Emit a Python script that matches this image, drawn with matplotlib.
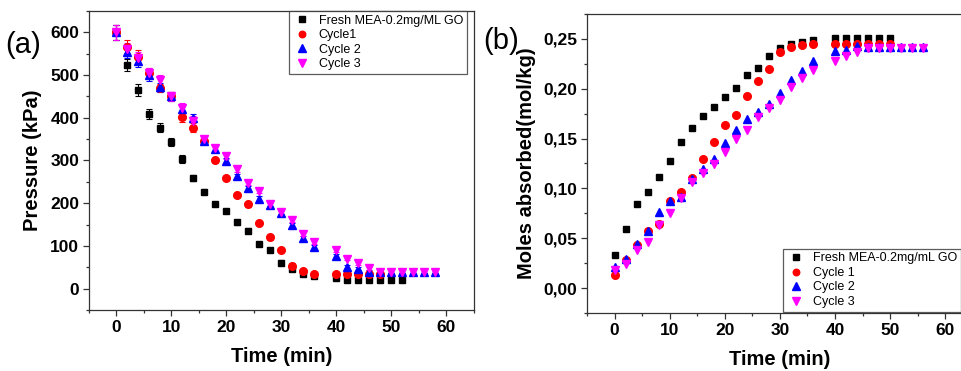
import matplotlib
matplotlib.use("Agg")
import matplotlib.pyplot as plt
from matplotlib.ticker import MultipleLocator, FuncFormatter

plt.rcParams["font.family"] = ["Liberation Sans", "DejaVu Sans"]

# panel (a): pressure vs time
ta_fresh = [0, 2, 4, 6, 8, 10, 12, 14, 16, 18, 20, 22, 24, 26, 28, 30, 32, 34, 36,
            40, 42, 44, 46, 48, 50, 52]
pa_fresh = [600, 523, 465, 408, 377, 343, 304, 259, 227, 199, 181, 155, 136, 105, 90, 61, 46, 35, 29,
            25, 20, 20, 20, 20, 20, 20]
ea_fresh = [17, 14, 14, 12, 11, 10, 10, 8, 6, 5, 5, 5, 5, 5, 5, 5, 5, 5, 5,
            4, 4, 4, 4, 4, 4, 4]

ta_c1 = [0, 2, 4, 6, 8, 10, 12, 14, 16, 18, 20, 22, 24, 26, 28, 30, 32, 34, 36,
         40, 42, 44, 46, 48]
pa_c1 = [600, 566, 543, 505, 470, 450, 401, 377, 346, 300, 259, 220, 197, 153, 120, 90, 54, 41, 35,
         35, 35, 35, 35, 35]
ea_c1 = [17, 15, 15, 12, 10, 10, 10, 10, 8, 6, 5, 5, 5, 5, 5, 5, 5, 5, 5,
         4, 4, 4, 4, 4]

ta_c23 = [0, 2, 4, 6, 8, 10, 12, 14, 16, 18, 20, 22, 24, 26, 28, 30, 32, 34, 36,
          40, 42, 44, 46, 48, 50, 52, 54, 56, 58]
pa_c2 = [600, 555, 534, 499, 471, 450, 421, 400, 346, 327, 299, 263, 235, 211, 195, 176, 148, 119, 98,
         76, 51, 47, 40, 40, 40, 40, 40, 40, 40]
pa_c3 = [600, 560, 540, 505, 488, 450, 424, 393, 350, 330, 310, 279, 248, 228, 199, 180, 160, 129, 109,
         90, 70, 59, 48, 40, 40, 40, 40, 40, 40]
ea_c23 = [17, 15, 15, 12, 11, 10, 10, 10, 8, 7, 7, 6, 6, 5, 5, 5, 5, 5, 5,
          4, 4, 4, 4, 4, 4, 4, 4, 4, 4]

# panel (b): moles absorbed vs time
tb_fresh = [0, 2, 4, 6, 8, 10, 12, 14, 16, 18, 20, 22, 24, 26, 28, 30, 32, 34, 36,
            40, 42, 44, 46, 48, 50]
mb_fresh = [0.033, 0.059, 0.084, 0.096, 0.111, 0.128, 0.147, 0.161, 0.173, 0.182, 0.192, 0.201,
            0.214, 0.221, 0.233, 0.241, 0.245, 0.247, 0.249,
            0.251, 0.251, 0.251, 0.251, 0.251, 0.251]
mb_c1 = [0.013, 0.028, 0.043, 0.057, 0.064, 0.087, 0.096, 0.110, 0.130, 0.147, 0.164, 0.174,
         0.193, 0.208, 0.220, 0.237, 0.242, 0.244, 0.245,
         0.245, 0.245, 0.245, 0.245, 0.245, 0.245]

tb_c23 = [0, 2, 4, 6, 8, 10, 12, 14, 16, 18, 20, 22, 24, 26, 28, 30, 32, 34, 36,
          40, 42, 44, 46, 48, 50, 52, 54, 56]
mb_c2 = [0.021, 0.029, 0.044, 0.057, 0.076, 0.087, 0.091, 0.109, 0.119, 0.130, 0.146, 0.159,
         0.170, 0.177, 0.185, 0.196, 0.209, 0.218, 0.228,
         0.238, 0.239, 0.243, 0.242, 0.242, 0.242, 0.242, 0.242, 0.242]
mb_c3 = [0.018, 0.024, 0.038, 0.046, 0.063, 0.075, 0.090, 0.106, 0.115, 0.124, 0.137, 0.150,
         0.159, 0.172, 0.181, 0.189, 0.202, 0.211, 0.219,
         0.228, 0.233, 0.237, 0.241, 0.241, 0.241, 0.241, 0.241, 0.241]

fig = plt.figure(figsize=(9.62, 3.71), dpi=100)
ax1 = fig.add_axes([0.0925, 0.1644, 0.4002, 0.806])
ax2 = fig.add_axes([0.6102, 0.1563, 0.4010, 0.806])

def style(ax):
    for s in ax.spines.values():
        s.set_linewidth(0.9)
        s.set_color("#333333")
    ax.tick_params(which="both", direction="out", top=False, right=False,
                   labelsize=12.5, width=0.9, color="#333333")
    ax.tick_params(which="major", length=4, pad=3)
    ax.tick_params(which="minor", length=2.5)
    for lab in ax.get_xticklabels() + ax.get_yticklabels():
        lab.set_fontweight("bold")
    ax.set_xlim(-5, 65)
    ax.xaxis.set_major_locator(MultipleLocator(10))
    ax.xaxis.set_minor_locator(MultipleLocator(5))
    ax.set_xlabel("Time (min)", fontsize=14.5, fontweight="bold", labelpad=9)

ebkw = dict(ls="none", capsize=2, elinewidth=0.8, capthick=0.8)
ax1.errorbar(ta_fresh, pa_fresh, yerr=ea_fresh, fmt="s", color="black", ms=5,
             label="Fresh MEA-0.2mg/ML GO", **ebkw)
ax1.errorbar(ta_c1, pa_c1, yerr=ea_c1, fmt="o", color="red", ms=5.5, label="Cycle1", **ebkw)
ax1.errorbar(ta_c23, pa_c2, yerr=ea_c23, fmt="^", color="blue", ms=6, label="Cycle 2", **ebkw)
ax1.errorbar(ta_c23, pa_c3, yerr=ea_c23, fmt="v", color="magenta", ms=6, label="Cycle 3", **ebkw)
ax1.set_ylim(-50, 650)
ax1.yaxis.set_major_locator(MultipleLocator(100))
ax1.yaxis.set_minor_locator(MultipleLocator(50))
ax1.set_ylabel("Pressure (kPa)", fontsize=14.5, fontweight="bold", labelpad=6)
style(ax1)

ax2.plot(tb_fresh, mb_fresh, "s", color="black", ms=5, label="Fresh MEA-0.2mg/mL GO")
ax2.plot(tb_fresh, mb_c1, "o", color="red", ms=5.5, label="Cycle 1")
ax2.plot(tb_c23, mb_c2, "^", color="blue", ms=6, label="Cycle 2")
ax2.plot(tb_c23, mb_c3, "v", color="magenta", ms=6, label="Cycle 3")
ax2.set_ylim(-0.025, 0.275)
ax2.yaxis.set_major_locator(MultipleLocator(0.05))
ax2.yaxis.set_minor_locator(MultipleLocator(0.025))
ax2.yaxis.set_major_formatter(FuncFormatter(lambda v, p: f"{v:.2f}".replace(".", ",")))
ax2.set_ylabel("Moles absorbed(mol/kg)", fontsize=14.5, fontweight="bold", labelpad=5)
style(ax2)

legkw = dict(fontsize=9, frameon=True, fancybox=False, numpoints=1, handlelength=1.5,
             handletextpad=0.6, labelspacing=0.2, borderpad=0.3, borderaxespad=0,
             markerscale=0.85, bbox_transform=fig.transFigure)
h, l = ax1.get_legend_handles_labels()
h = [x[0] for x in h]
lg1 = ax1.legend(h, l, loc="upper right", bbox_to_anchor=(466.7 / 962, 1 - 11 / 371), **legkw)
lg2 = ax2.legend(loc="lower left", bbox_to_anchor=(782.7 / 962, 1 - 311.7 / 371), **legkw)
for lg in (lg1, lg2):
    lg.get_frame().set_edgecolor("#333333")
    lg.get_frame().set_linewidth(0.9)

fig.text(0.005, 0.88, "(a)", fontsize=21, va="center", ha="left")
fig.text(0.502, 0.89, "(b)", fontsize=21, va="center", ha="left")

fig.savefig("out.png", dpi=100)
